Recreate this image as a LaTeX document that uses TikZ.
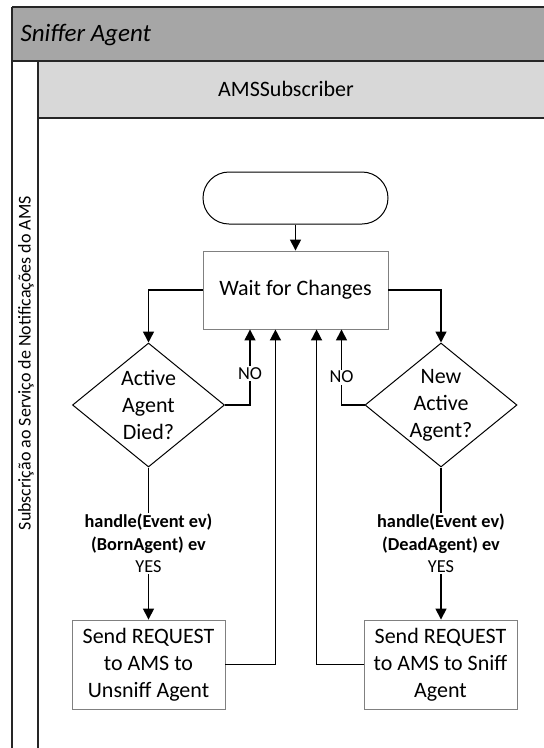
\documentclass[tikz,border=0pt]{standalone}
\usepackage{fontspec}
\setmainfont{Carlito}
\usetikzlibrary{shapes.geometric,arrows.meta}
\definecolor{poolfill}{HTML}{A6A6A6}
\definecolor{lanefill}{HTML}{D8D8D8}
\definecolor{boxedge}{HTML}{808080}
\definecolor{frameedge}{HTML}{262626}

\begin{document}
\begin{tikzpicture}[x=1pt,y=-1pt,
  bodyfont/.style={font=\fontsize{22}{27}\selectfont},
  smallfont/.style={font=\fontsize{18.3}{22.5}\selectfont},
  frame/.style={draw=frameedge, line width=1.5pt},
  procbox/.style={draw=boxedge, line width=0.9pt, fill=white, align=center,
    inner sep=0pt, bodyfont},
  decision/.style={diamond, draw=black, line width=1pt, fill=white,
    inner sep=0pt, minimum width=152pt, minimum height=124pt},
  terminal/.style={draw=black, line width=1pt, fill=white,
    rounded corners=26pt, minimum width=185pt, minimum height=52pt},
  flow/.style={line width=1.5pt, -{Triangle[length=11pt,width=11pt]}},
  tag/.style={fill=white, inner sep=1.5pt, smallfont},
]
\useasboundingbox (0,0) rectangle (544,748);

% pool and lane frame
\begin{scope}
  \clip (0,0) rectangle (544,748);
  \fill[white] (0,0) rectangle (544,748);
  \fill[poolfill] (12,7) rectangle (560,61);
  \fill[lanefill] (38,61) rectangle (560,118);
  \draw[frame] (12,7) -- (560,7);
  \draw[frame] (12,7) -- (12,760);
  \draw[frame] (12,61) -- (560,61);
  \draw[frame] (38,61) -- (38,760);
  \draw[frame] (38,118) -- (560,118);
\end{scope}

\node[anchor=west, font=\fontsize{25}{30}\selectfont\itshape] (pool) at (17,35) {Sniffer Agent};
\node[bodyfont] (lane) at (286,89) {AMSSubscriber};
\node[rotate=90, font=\fontsize{18}{22}\selectfont] (role) at (26,363)
  {Subscrição ao Serviço de Notificações do AMS};

% flow nodes
\node[terminal] (start) at (295.5,198) {};
\node[procbox, minimum width=185pt, minimum height=78pt] (wait) at (295.5,290) {Wait for Changes};
\node[decision, label={[bodyfont, align=center]center:Active\\Agent\\Died?}] (died) at (148.5,405) {};
\node[decision, label={[bodyfont, align=center]center:New\\Active\\Agent?}] (born) at (441,405) {};
\node[procbox, minimum width=153pt, minimum height=89pt] (unsniff) at (148.5,664.5)
  {Send REQUEST\\to AMS to\\Unsniff Agent};
\node[procbox, minimum width=153pt, minimum height=89pt] (sniff) at (440.5,664.5)
  {Send REQUEST\\to AMS to Sniff\\Agent};

% connectors
\draw[flow] (start.south) -- (wait.north);
\draw[flow] (wait.west) -| (died.north);
\draw[flow] (wait.east) -| (born.north);

\draw[flow] (died.east) -- ++(25,0) coordinate (noL)
  -- (noL |- wait.south) node[tag, pos=0.42] {NO};
\draw[flow] (born.west) -- ++(-23,0) coordinate (noR)
  -- (noR |- wait.south) node[tag, pos=0.37] {NO};

\draw[flow] (died.south) -- (unsniff.north)
  node[tag, pos=0.5, align=center] {\textbf{handle(Event ev)}\\\textbf{(BornAgent) ev}\\YES};
\draw[flow] (born.south) -- (born.south |- sniff.north)
  node[tag, pos=0.5, align=center] {\textbf{handle(Event ev)}\\\textbf{(DeadAgent) ev}\\YES};

\draw[flow] (unsniff.east) -- ++(50,0) coordinate (backL) -- (backL |- wait.south);
\draw[flow] (sniff.west) -- ++(-47,0) coordinate (backR) -- (backR |- wait.south);
\end{tikzpicture}
\end{document}
